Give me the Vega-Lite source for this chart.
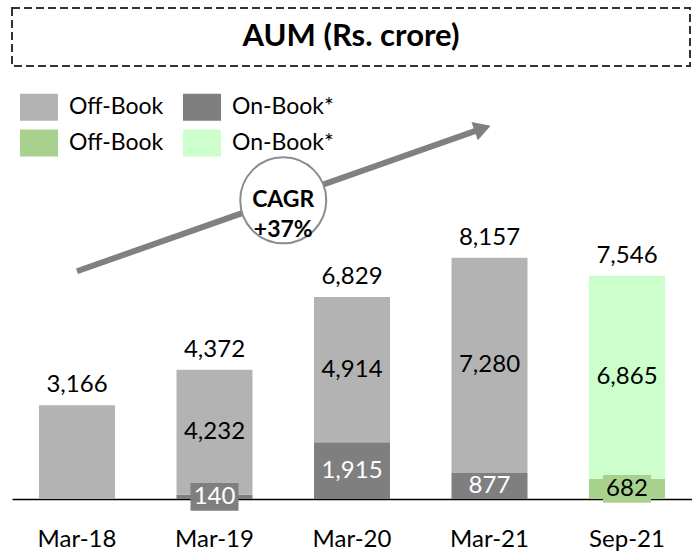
{
  "$schema": "https://vega.github.io/schema/vega-lite/v6.json",
  "padding": {"left": 11, "top": 7, "right": 0, "bottom": 0},
  "spacing": 12,
  "config": {"view": {"stroke": null}, "font": "Lato"},
  "datasets": {
    "segments": [
      {"period": "Mar-18", "series": "Off-Book", "value": 3166},
      {"period": "Mar-19", "series": "On-Book*", "value": 140},
      {"period": "Mar-19", "series": "Off-Book", "value": 4232},
      {"period": "Mar-20", "series": "On-Book*", "value": 1915},
      {"period": "Mar-20", "series": "Off-Book", "value": 4914},
      {"period": "Mar-21", "series": "On-Book*", "value": 877},
      {"period": "Mar-21", "series": "Off-Book", "value": 7280},
      {"period": "Sep-21", "series": "Off-Book (Sep-21)", "value": 682},
      {"period": "Sep-21", "series": "On-Book* (Sep-21)", "value": 6865}
    ],
    "totals": [
      {"period": "Mar-18", "total": 3166},
      {"period": "Mar-19", "total": 4372},
      {"period": "Mar-20", "total": 6829},
      {"period": "Mar-21", "total": 8157},
      {"period": "Sep-21", "total": 7546}
    ],
    "trend": [
      {"t": 0, "aum": 7700, "part": "start"},
      {"t": 2.95, "aum": 12530, "part": "end"}
    ],
    "cagr": [
      {"t": 1.5, "aum": 10100, "label": "CAGR\n+37%"}
    ]
  },
  "vconcat": [
    {
      "width": 678,
      "height": 58,
      "view": {"stroke": "#333333", "strokeDash": [8, 4], "strokeWidth": 2},
      "data": {"values": [{"title": "AUM (Rs. crore)"}]},
      "mark": {"type": "text", "font": "Lato", "fontSize": 31, "fontWeight": "bold", "color": "#000000"},
      "encoding": {"text": {"field": "title"}}
    },
    {
      "width": 680,
      "height": 420,
      "layer": [
        {
          "layer": [
            {
              "data": {"name": "segments"},
              "transform": [
                {"stack": "value", "groupby": ["period"], "sort": [{"field": "value", "order": "ascending"}], "as": ["v0", "v1"]}
              ],
              "mark": {"type": "bar"},
              "encoding": {
                "x": {
                  "field": "period", "type": "nominal", "sort": null,
                  "scale": {"paddingInner": 0.4473, "paddingOuter": 0.1964},
                  "axis": {"title": null, "labelFont": "Lato", "labelFontSize": 24, "labelColor": "#000000", "ticks": false, "labelPadding": 28, "labelAngle": 0, "domainColor": "#000000", "domainWidth": 1.5}
                },
                "y": {"field": "v0", "type": "quantitative", "scale": {"domain": [0, 14200], "nice": false}, "axis": null},
                "y2": {"field": "v1"},
                "color": {
                  "field": "series", "type": "nominal",
                  "scale": {
                    "domain": ["Off-Book", "On-Book*", "Off-Book (Sep-21)", "On-Book* (Sep-21)"],
                    "range": ["#b3b3b3", "#7f7f7f", "#a9d18e", "#ccffcc"]
                  },
                  "legend": {
                    "orient": "none", "legendX": 8, "legendY": 80, "columns": 2, "direction": "horizontal", "title": null,
                    "symbolType": "M-1,-0.71L1,-0.71L1,0.71L-1,0.71Z", "symbolSize": 1444, "symbolStrokeWidth": 0, "symbolOpacity": 1,
                    "labelFont": "Lato", "labelFontSize": 23, "labelColor": "#000000", "labelOffset": 11,
                    "columnPadding": 19, "rowPadding": 3, "padding": 0,
                    "labelExpr": "replace(datum.label, ' (Sep-21)', '')"
                  }
                }
              }
            },
            {
              "data": {"name": "segments"},
              "transform": [
                {"stack": "value", "groupby": ["period"], "sort": [{"field": "value", "order": "ascending"}], "as": ["v0", "v1"]},
                {"calculate": "(datum.v0 + datum.v1) / 2", "as": "mid"},
                {"filter": "datum.value < 800"}
              ],
              "mark": {"type": "point", "filled": true, "opacity": 1, "shape": "M-1,-0.58L1,-0.58L1,0.58L-1,0.58Z", "size": 2304, "strokeWidth": 0},
              "encoding": {
                "x": {"field": "period", "type": "nominal", "sort": null},
                "y": {"field": "mid", "type": "quantitative"},
                "color": {"condition": {"test": "datum.series === 'On-Book*'", "value": "#7f7f7f"}, "value": "#a9d18e"}
              }
            },
            {
              "data": {"name": "segments"},
              "transform": [
                {"stack": "value", "groupby": ["period"], "sort": [{"field": "value", "order": "ascending"}], "as": ["v0", "v1"]},
                {"calculate": "(datum.v0 + datum.v1) / 2", "as": "mid"},
                {"filter": "datum.period !== 'Mar-18'"}
              ],
              "mark": {"type": "text", "font": "Lato", "fontSize": 24, "baseline": "middle"},
              "encoding": {
                "x": {"field": "period", "type": "nominal", "sort": null},
                "y": {"field": "mid", "type": "quantitative"},
                "text": {"field": "value", "type": "quantitative", "format": ",d"},
                "color": {"condition": {"test": "datum.series === 'On-Book*'", "value": "#ffffff"}, "value": "#000000"}
              }
            },
            {
              "data": {"name": "totals"},
              "mark": {"type": "text", "font": "Lato", "fontSize": 24, "baseline": "middle", "dy": -20, "color": "#000000"},
              "encoding": {
                "x": {"field": "period", "type": "nominal", "sort": null},
                "y": {"field": "total", "type": "quantitative"},
                "text": {"field": "total", "type": "quantitative", "format": ",d"}
              }
            }
          ]
        },
        {
          "layer": [
            {
              "data": {"name": "trend"},
              "mark": {"type": "line", "color": "#808080", "strokeWidth": 6, "strokeCap": "butt"},
              "encoding": {
                "x": {"field": "t", "type": "quantitative", "scale": {"domain": [-0.4727, 4.4727], "nice": false, "zero": false}, "axis": null},
                "y": {"field": "aum", "type": "quantitative"}
              }
            },
            {
              "data": {"name": "trend"},
              "transform": [{"filter": "datum.part === 'end'"}],
              "mark": {"type": "point", "shape": "triangle-right", "filled": true, "opacity": 1, "color": "#808080", "size": 380, "angle": -19},
              "encoding": {
                "x": {"field": "t", "type": "quantitative"},
                "y": {"field": "aum", "type": "quantitative"}
              }
            },
            {
              "data": {"name": "cagr"},
              "mark": {"type": "point", "shape": "circle", "filled": true, "opacity": 1, "fill": "#ffffff", "stroke": "#8c8c8c", "strokeWidth": 2, "size": 7400},
              "encoding": {
                "x": {"field": "t", "type": "quantitative"},
                "y": {"field": "aum", "type": "quantitative"}
              }
            },
            {
              "data": {"name": "cagr"},
              "mark": {"type": "text", "font": "Lato", "fontSize": 23, "fontWeight": "bold", "lineBreak": "\n", "lineHeight": 30, "baseline": "middle", "color": "#000000"},
              "encoding": {
                "x": {"field": "t", "type": "quantitative"},
                "y": {"field": "aum", "type": "quantitative"},
                "text": {"field": "label"}
              }
            }
          ]
        }
      ],
      "resolve": {"scale": {"x": "independent"}, "axis": {"x": "independent"}}
    }
  ]
}
